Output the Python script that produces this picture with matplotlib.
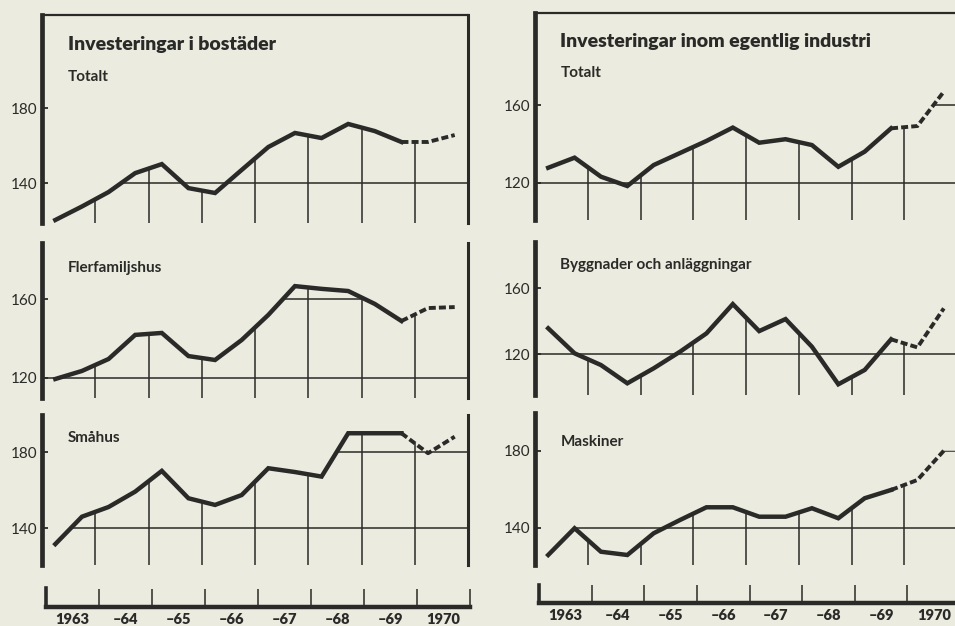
import matplotlib
matplotlib.use("Agg")
import matplotlib.pyplot as plt
import numpy as np
from matplotlib.patches import Polygon

# half-year observations 1963 H1 .. 1970 H2 (index, 1959 = 100)
halfyears = np.arange(1963.25, 1971.0, 0.5)
year_labels = ["1963", "–64", "–65", "–66", "–67", "–68", "–69", "1970"]
forecast_from = 13  # from 1969 H2 on the curve is dashed

bost_totalt = [120.3, 127.5, 135.2, 145.3, 150.1, 137.3, 134.7, 147.0,
               159.2, 166.7, 164.0, 171.5, 167.7, 161.9, 161.9, 165.6]
flerfam = [119.3, 123.4, 129.5, 141.8, 142.8, 131.0, 129.0, 139.2,
           152.0, 166.7, 165.3, 164.2, 157.6, 148.9, 155.5, 156.0]
smahus = [131.7, 146.1, 151.2, 159.3, 170.2, 155.8, 152.3, 157.5,
          171.6, 169.6, 167.2, 190.0, 190.0, 190.0, 179.5, 188.2]
ind_totalt = [127.7, 132.9, 123.1, 118.3, 129.1, 135.3, 141.5, 148.4,
              140.6, 142.4, 139.4, 128.2, 136.0, 148.0, 149.2, 166.9]
byggnader = [135.8, 120.6, 113.5, 102.4, 111.5, 121.6, 132.7, 150.5,
             134.1, 141.4, 124.6, 101.8, 110.5, 129.1, 124.2, 147.9]
maskiner = [125.8, 139.7, 127.5, 125.8, 137.1, 144.0, 150.6, 150.6,
            145.7, 145.7, 150.1, 144.9, 155.3, 159.6, 164.8, 180.0]

plt.rcParams["font.family"] = ["Lato", "DejaVu Sans"]

PAPER = "#ecebdf"
INK = "#2a2a28"
W, H = 955, 626

fig = plt.figure(figsize=(W / 100, H / 100), dpi=100)
fig.patch.set_facecolor(PAPER)


def box(x0, y0, x1, y1):
    # pixel box (top-left origin) -> figure fraction
    return [x0 / W, 1 - y1 / H, (x1 - x0) / W, (y1 - y0) / H]


def panel(rect, vals, ylim, ticks, label, title=None, top=False, right=True):
    ax = fig.add_axes(rect)
    ax.set_facecolor("none")
    vals = np.asarray(vals)
    ax.set_xlim(1963, 1971)
    ax.set_ylim(*ylim)
    ax.spines["bottom"].set_visible(False)
    ax.spines["top"].set_visible(top)
    ax.spines["top"].set_linewidth(1.6)
    ax.spines["right"].set_visible(right)
    ax.spines["right"].set_linewidth(2.2)
    ax.spines["left"].set_linewidth(3.4)
    for s in ax.spines.values():
        s.set_color(INK)
    ax.set_xticks([])
    ax.set_yticks(ticks)
    ax.tick_params(axis="y", direction="in", length=4, width=1.3, colors=INK,
                   labelsize=11, pad=3)

    lo, hi = ticks
    # area under the curve, used to cut the grid
    px = np.concatenate([[1963], halfyears, [1971]])
    py = np.concatenate([[vals[0]], vals, [vals[-1]]])
    under = Polygon(np.column_stack([np.r_[px, px[::-1]],
                                     np.r_[py, np.full(len(py), ylim[0])]]),
                    closed=True, transform=ax.transData)

    # lower grid line: from where the curve first reaches it to the right edge
    idx = np.argmax(vals >= lo - 1)
    if idx == 0:
        x_start = 1963
    else:
        x_start = np.interp(lo, [vals[idx - 1], vals[idx]],
                            [halfyears[idx - 1], halfyears[idx]])
    ax.hlines(lo, x_start, 1971, color=INK, lw=1.1, zorder=2)
    # upper grid line only under the curve
    ln = ax.hlines(hi, 1963, 1971, color=INK, lw=1.1, zorder=2)
    ln.set_clip_path(under)
    # year boundaries rise from the bottom to the curve
    for yb in range(1964, 1971):
        ax.vlines(yb, ylim[0], np.interp(yb, halfyears, vals), color=INK,
                  lw=1.1, zorder=2)

    ax.plot(halfyears[:forecast_from + 1], vals[:forecast_from + 1],
            color=INK, lw=3.2, solid_joinstyle="miter", zorder=3)
    ax.plot(halfyears[forecast_from:], vals[forecast_from:], color=INK,
            lw=2.8, ls=(0, (1.8, 0.8)), zorder=3)

    if title:
        ax.text(0.06, 0.86, title, transform=ax.transAxes, fontsize=14,
                fontweight="heavy", color=INK, va="center")
    ax.text(0.06, label[1], label[0], transform=ax.transAxes, fontsize=11,
            fontweight="bold", color=INK, va="center")
    return ax


def year_strip(rect):
    ax = fig.add_axes(rect)
    ax.set_facecolor("none")
    ax.set_xlim(1963, 1971)
    ax.set_ylim(0, 1)
    for s in ["top", "right"]:
        ax.spines[s].set_visible(False)
    ax.spines["bottom"].set_linewidth(3.2)
    ax.spines["left"].set_linewidth(2.6)
    for s in ax.spines.values():
        s.set_color(INK)
    ax.set_yticks([])
    ax.set_xticks(range(1964, 1972))
    ax.set_xticklabels([])
    ax.tick_params(axis="x", which="major", direction="in", length=13,
                   width=1.1, colors=INK)
    ax.set_xticks(np.arange(1963.5, 1971), minor=True)
    ax.set_xticklabels(year_labels, minor=True, fontsize=10.5,
                       fontweight="heavy", color=INK)
    ax.tick_params(axis="x", which="minor", length=0, pad=4)
    return ax


# left column: housing
panel(box(42, 15, 468, 223), bost_totalt, (118.7, 229.6), [140, 180],
      ("Totalt", 0.70), title="Investeringar i bostäder", top=True)
panel(box(42, 243, 468, 398), flerfam, (109.6, 188.7), [120, 160],
      ("Flerfamiljshus", 0.84))
panel(box(42, 415, 468, 565), smahus, (120.7, 199.6), [140, 180],
      ("Småhus", 0.85))
year_strip(box(46, 588, 470, 607))

# right column: manufacturing industry
panel(box(535, 13, 957, 220), ind_totalt, (100.8, 207.4), [120, 160],
      ("Totalt", 0.71), title="Investeringar inom egentlig industri",
      top=True, right=False)
panel(box(535, 242, 957, 395), byggnader, (95.3, 188.2), [120, 160],
      ("Byggnader och anläggningar", 0.85), right=False)
panel(box(535, 413, 957, 565), maskiner, (120.6, 199.6), [140, 180],
      ("Maskiner", 0.81), right=False)
year_strip(box(539, 585, 960, 603))

fig.savefig("out.png", dpi=100, facecolor=PAPER)
